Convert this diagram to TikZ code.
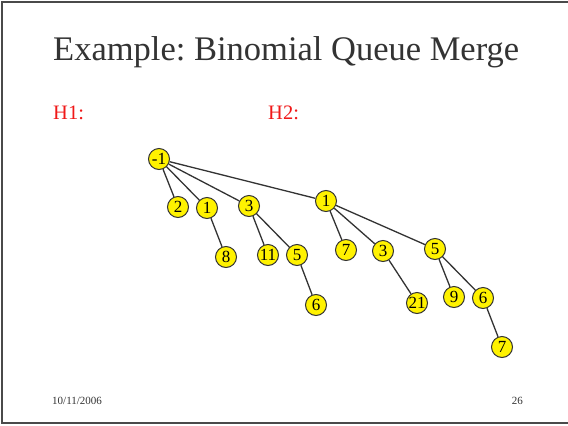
\documentclass[tikz,border=0pt]{standalone}
\usepackage{fontspec}
\setmainfont{Liberation Serif}
\frenchspacing
\definecolor{frame}{HTML}{4A4A4A}
\definecolor{ink}{HTML}{333333}
\definecolor{hred}{HTML}{F01818}
\definecolor{nodey}{HTML}{FFF200}
\tikzset{
  nd/.style={circle,draw=ink,line width=1pt,fill=nodey,minimum size=21pt,inner sep=0pt,font=\fontsize{17}{17}\selectfont},
  ed/.style={draw=ink,line width=1.3pt},
}
\begin{document}
\begin{tikzpicture}[x=1pt,y=-1pt]
\useasboundingbox (0,0) rectangle (568,426);
\fill[white] (0,0) rectangle (568,426);
\draw[frame,line width=2pt] (568,1.5) -- (1.5,1.5) -- (1.5,423) -- (568,423);
\node[anchor=base west,text=ink,inner sep=0pt,font=\fontsize{34.5}{34.5}\selectfont] (title) at (53,60) {Example: Binomial Queue Merge};
\node[anchor=base west,text=hred,inner sep=0pt,font=\fontsize{20.5}{20.5}\selectfont] (h1) at (53,119.5) {H1:};
\node[anchor=base west,text=hred,inner sep=0pt,font=\fontsize{20.5}{20.5}\selectfont] (h2) at (268,119.5) {H2:};
\node[anchor=base west,text=ink,inner sep=0pt,font=\fontsize{11}{11}\selectfont] (date) at (52,404) {10/11/2006};
\node[anchor=base east,text=ink,inner sep=0pt,font=\fontsize{11}{11}\selectfont] (page) at (523,404) {26};
% H1
\node[nd] (a) at (159,159) {-1};
\node[nd] (a2) at (178,207) {2};
\node[nd] (a1) at (207,208) {1};
\node[nd] (a3) at (249,206) {3};
\node[nd] (a8) at (226,257) {8};
\node[nd] (a11) at (268,255) {11};
\node[nd] (a5) at (297,255) {5};
\node[nd] (a6) at (316,305) {6};
% H2
\node[nd] (b) at (326,201) {1};
\node[nd] (b7) at (346,250) {7};
\node[nd] (b3) at (383,251) {3};
\node[nd] (b5) at (435,249) {5};
\node[nd] (b21) at (417,303) {21};
\node[nd] (b9) at (454,297) {9};
\node[nd] (b6) at (483,298) {6};
\node[nd] (b7b) at (502,347) {7};
\path[ed] (a) -- (a2) (a) -- (a1) (a) -- (a3) (a) -- (b)
  (a1) -- (a8) (a3) -- (a11) (a3) -- (a5) (a5) -- (a6)
  (b) -- (b7) (b) -- (b3) (b) -- (b5) (b3) -- (b21)
  (b5) -- (b9) (b5) -- (b6) (b6) -- (b7b);
\end{tikzpicture}
\end{document}
